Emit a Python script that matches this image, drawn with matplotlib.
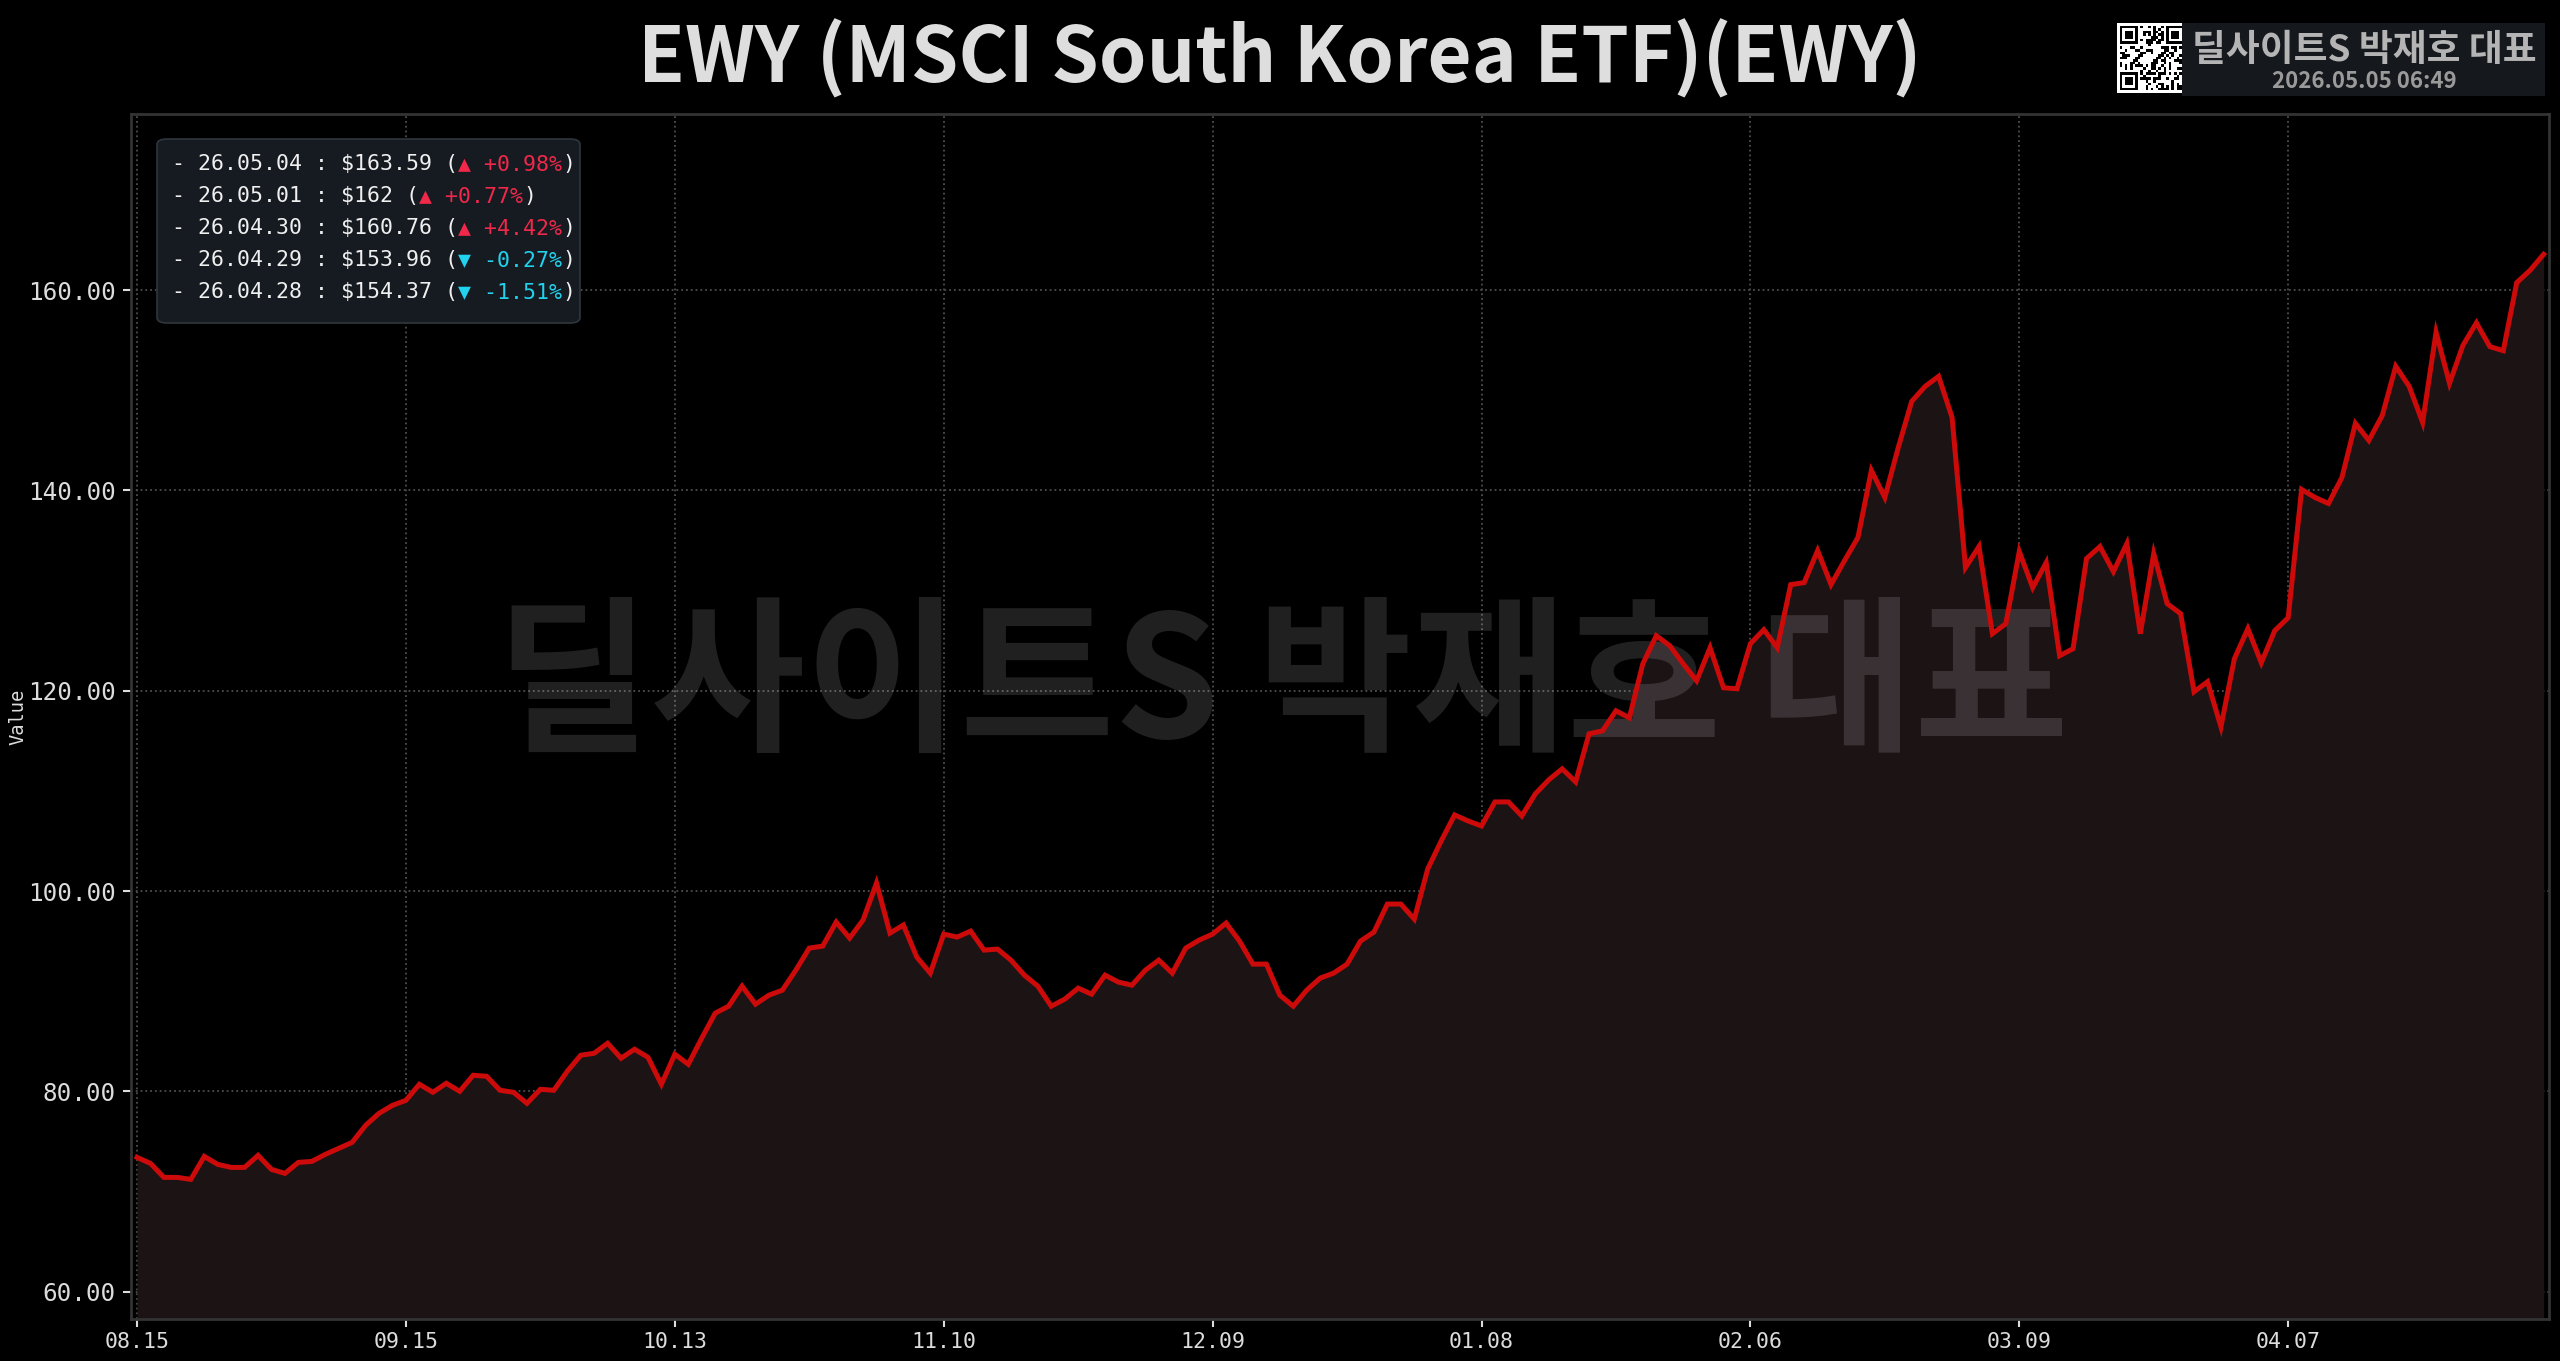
import numpy as np
import matplotlib
matplotlib.use('Agg')
import matplotlib.pyplot as plt
from matplotlib.patches import FancyBboxPatch, Rectangle
from matplotlib.text import Annotation

# EWY daily close, 2025.08.15 -> 2026.05.04 (180 trading days)
values = [
    73.4, 72.8, 71.4, 71.4, 71.2, 73.5, 72.7, 72.4, 72.4, 73.6,
    72.2, 71.8, 72.9, 73.0, 73.7, 74.3, 74.9, 76.6, 77.8, 78.6,
    79.1, 80.7, 79.9, 80.8, 80.0, 81.6, 81.5, 80.1, 79.9, 78.8,
    80.2, 80.1, 82.0, 83.6, 83.8, 84.8, 83.3, 84.2, 83.4, 80.7,
    83.7, 82.7, 85.3, 87.8, 88.5, 90.5, 88.7, 89.6, 90.1, 92.1,
    94.3, 94.5, 96.9, 95.3, 97.1, 100.8, 95.8, 96.6, 93.4, 91.8,
    95.7, 95.4, 96.0, 94.1, 94.2, 93.1, 91.6, 90.5, 88.5, 89.2,
    90.3, 89.7, 91.6, 90.9, 90.6, 92.1, 93.1, 91.8, 94.3, 95.1,
    95.7, 96.8, 95.0, 92.7, 92.7, 89.6, 88.5, 90.1, 91.3, 91.8,
    92.7, 95.0, 95.9, 98.7, 98.7, 97.2, 102.2, 105.0, 107.6, 107.0,
    106.5, 108.9, 108.9, 107.5, 109.7, 111.1, 112.2, 110.9, 115.7, 116.0,
    118.0, 117.3, 122.7, 125.5, 124.5, 122.7, 121.0, 124.3, 120.3, 120.2,
    124.7, 126.1, 124.3, 130.6, 130.8, 134.0, 130.6, 133.0, 135.3, 142.0,
    139.3, 144.3, 148.9, 150.4, 151.4, 147.3, 132.3, 134.4, 125.7, 126.7,
    133.9, 130.3, 132.8, 123.5, 124.2, 133.2, 134.4, 131.9, 134.7, 125.7,
    133.7, 128.7, 127.7, 119.9, 120.9, 116.4, 123.2, 126.2, 122.8, 126.0,
    127.3, 140.1, 139.3, 138.7, 141.3, 146.7, 145.0, 147.5, 152.4, 150.4,
    146.8, 155.8, 150.7, 154.5, 156.74, 154.37, 153.96, 160.76, 162.0, 163.59,
]
tick_pos = [0, 20, 40, 60, 80, 100, 120, 140, 160]
tick_labels = ['08.15', '09.15', '10.13', '11.10', '12.09', '01.08', '02.06', '03.09', '04.07']
last_dates = ['26.05.04', '26.05.01', '26.04.30', '26.04.29', '26.04.28']

title = 'EWY (MSCI South Korea ETF)(EWY)'
brand = '딜사이트S 박재호 대표'
stamp = '2026.05.05 06:49'

KR = ['Noto Sans CJK KR', 'DejaVu Sans']
MONO = 'DejaVu Sans Mono'
W, H = 2560, 1361

fig = plt.figure(figsize=(W / 100, H / 100), dpi=100, facecolor='black')
ax = fig.add_axes([131 / W, 1 - 1319 / H, (2549 - 131) / W, (1319 - 114) / H])
ax.set_facecolor('black')

x = np.arange(len(values))
ymin, ymax = 57.26, 177.6
ax.fill_between(x, values, ymin, color='#1c1315', lw=0, zorder=1)
ax.plot(x, values, color='#cc0a0a', lw=3.6, zorder=3, solid_joinstyle='miter')
ax.set_xlim(-0.45, 179.4)
ax.set_ylim(ymin, ymax)

# watermark
ax.text(0.476, 0.523, brand, transform=ax.transAxes, ha='center', va='center',
        fontsize=121, fontweight='bold', family=KR, color='white', alpha=0.13, zorder=2)

ax.set_xticks(tick_pos)
ax.set_xticklabels(tick_labels)
ax.set_yticks(np.arange(60, 161, 20))
ax.yaxis.set_major_formatter(matplotlib.ticker.FormatStrFormatter('%.2f'))
ax.tick_params(colors='#dcdcdc', length=6, width=1.5)
ax.tick_params(axis='x', labelsize=15.5)
ax.tick_params(axis='y', labelsize=17.5, pad=5)
for lab in ax.get_xticklabels() + ax.get_yticklabels():
    lab.set_family(MONO)
ax.grid(True, color='#4e4e4e', linestyle=':', lw=1.3, zorder=0)
ax.set_axisbelow(True)
for s in ax.spines.values():
    s.set_color('#333333')
    s.set_linewidth(2)
ax.set_ylabel('Value', color='#dcdcdc', fontsize=13.5, family=MONO)
ax.yaxis.set_label_coords(-0.043, 0.5)

fig.text(0.5, 1 - 59 / H, title, ha='center', va='center', fontsize=55,
         fontweight='bold', family=KR, color='#dedede')

# recent closes box
box = FancyBboxPatch((157 / W, 1 - 323 / H), (580 - 157) / W, (323 - 139) / H,
                     boxstyle='round,pad=0,rounding_size=0.004', transform=fig.transFigure,
                     facecolor='#161b22', edgecolor='#30363d', lw=1.2, zorder=5)
fig.patches.append(box)
for k in range(5):
    i = len(values) - 1 - k
    cur, prev = values[i], values[i - 1]
    pct = (cur - prev) / prev * 100
    up = pct >= 0
    col = '#f0284a' if up else '#22d3ee'
    arrow = '▲' if up else '▼'
    yk = 1 - (164 + 32 * k) / H
    t = fig.text(172 / W, yk, f'- {last_dates[k]} : ${cur:g} (', color='#f0f0f0',
                 fontsize=15.5, family=MONO, va='center', ha='left', zorder=6)
    t2 = Annotation(f'{arrow} {pct:+.2f}%', xy=(1, 0), xycoords=t, va='bottom', ha='left',
                    color=col, fontsize=15.5, family=MONO, zorder=6)
    fig.add_artist(t2)
    t3 = Annotation(')', xy=(1, 0), xycoords=t2, va='bottom', ha='left', color='#f0f0f0',
                    fontsize=15.5, family=MONO, zorder=6)
    fig.add_artist(t3)

# brand badge, top right
fig.patches.append(Rectangle((2182 / W, 1 - 96 / H), (2545 - 2182) / W, (96 - 23) / H,
                             transform=fig.transFigure, facecolor='#15181d', edgecolor='none'))
fig.text(2364 / W, 1 - 51 / H, brand, ha='center', va='center', fontsize=26.5,
         fontweight='bold', family=KR, color='#b4b4b4')
fig.text(2364 / W, 1 - 82 / H, stamp, ha='center', va='center', fontsize=16,
         fontweight='bold', family=KR, color='#9a9a9a')

# QR-style glyph
n = 25
bits = np.unpackbits(np.frombuffer((brand + stamp + title).encode('utf-8') * 4, dtype=np.uint8))
qr = bits[:n * n].reshape(n, n).astype(float)
for r0, c0 in [(0, 0), (0, n - 7), (n - 7, 0)]:
    qr[max(r0 - 1, 0):r0 + 8, max(c0 - 1, 0):c0 + 8] = 0
    qr[r0:r0 + 7, c0:c0 + 7] = 1
    qr[r0 + 1:r0 + 6, c0 + 1:c0 + 6] = 0
    qr[r0 + 2:r0 + 5, c0 + 2:c0 + 5] = 1
qax = fig.add_axes([2117 / W, 1 - 93 / H, 70 / W, 70 / H])
qax.imshow(np.pad(qr, 1), cmap='binary', interpolation='nearest')
qax.axis('off')

fig.savefig('out.png', dpi=100, facecolor='black')
